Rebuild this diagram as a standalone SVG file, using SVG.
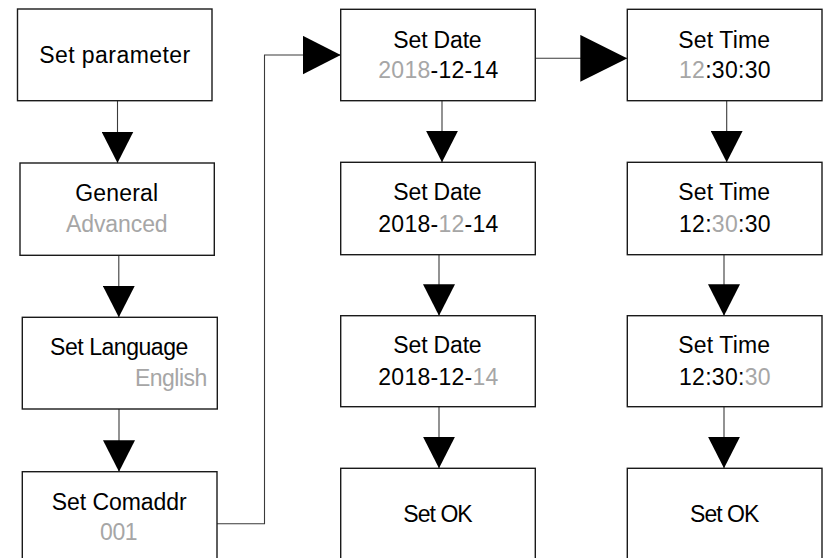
<svg xmlns="http://www.w3.org/2000/svg" width="829" height="558" viewBox="0 0 829 558">
<style>
.box{fill:#fff;stroke:#1a1a1a;stroke-width:1.4}
.t{font-family:"Liberation Sans",Arial,sans-serif;font-size:23px;fill:#000;text-anchor:middle}
.g{fill:#a6a6a6}
.c{fill:none;stroke:#3a3a3a;stroke-width:1.1}
</style>
<defs>
<marker id="aS" markerUnits="userSpaceOnUse" markerWidth="32" markerHeight="32" refX="31.5" refY="16" orient="auto" viewBox="0 0 32 32"><path d="M0,0 L31.5,16 L0,32 Z" fill="#000"/></marker>
<marker id="aM" markerUnits="userSpaceOnUse" markerWidth="39" markerHeight="39" refX="38" refY="19.3" orient="auto" viewBox="0 0 39 39"><path d="M0,0 L38,19.3 L0,38.6 Z" fill="#000"/></marker>
<marker id="aL" markerUnits="userSpaceOnUse" markerWidth="47" markerHeight="47" refX="47" refY="23.4" orient="auto" viewBox="0 0 47 47"><path d="M0,0 L47,23.4 L0,46.8 Z" fill="#000"/></marker>
</defs>
<g id="connectors">
<path class="c" d="M117.5,100.7 V163" marker-end="url(#aS)"/>
<path class="c" d="M118.8,255.3 V317.3" marker-end="url(#aS)"/>
<path class="c" d="M119,409 V471.7" marker-end="url(#aS)"/>
<path class="c" d="M217,523.7 H264.5 V55 H340.7" marker-end="url(#aM)"/>
<path class="c" d="M442,100.7 V162.3" marker-end="url(#aS)"/>
<path class="c" d="M439,254.7 V315.7" marker-end="url(#aS)"/>
<path class="c" d="M439,406.7 V468.3" marker-end="url(#aS)"/>
<path class="c" d="M535.3,58.3 H627.3" marker-end="url(#aL)"/>
<path class="c" d="M726.7,100.7 V162.3" marker-end="url(#aS)"/>
<path class="c" d="M724,254.7 V315.7" marker-end="url(#aS)"/>
<path class="c" d="M724,406.7 V468.3" marker-end="url(#aS)"/>
</g>
<g id="set-parameter">
<rect class="box" x="17.5" y="9" width="194.5" height="91.7"/>
<text class="t" x="114.7" y="63.3" textLength="151">Set parameter</text>
</g>
<g id="general">
<rect class="box" x="20" y="163" width="194.3" height="92.3"/>
<text class="t" x="116.7" y="201" textLength="83">General</text>
<text class="t g" x="116.8" y="232.3" textLength="101.7">Advanced</text>
</g>
<g id="set-language">
<rect class="box" x="22.3" y="317.3" width="195" height="91.7"/>
<text class="t" x="119.2" y="355" textLength="138.3">Set Language</text>
<text class="t g" x="207.3" y="386" style="text-anchor:end" textLength="72.3">English</text>
</g>
<g id="set-comaddr">
<rect class="box" x="22.3" y="471.7" width="194.7" height="100"/>
<text class="t" x="119.2" y="510" textLength="135">Set Comaddr</text>
<text class="t g" x="118.8" y="540" textLength="37.7">001</text>
</g>
<g id="date-year">
<rect class="box" x="340.7" y="9.3" width="194.6" height="91.4"/>
<text class="t" x="437.5" y="48.3" textLength="88.3">Set Date</text>
<text class="t" x="438.3" y="78.3" textLength="120"><tspan class="g">2018</tspan>-12-14</text>
</g>
<g id="date-month">
<rect class="box" x="340.7" y="162.3" width="194.6" height="92.4"/>
<text class="t" x="437.5" y="200" textLength="88.3">Set Date</text>
<text class="t" x="438.3" y="231.7" textLength="120">2018-<tspan class="g">12</tspan>-14</text>
</g>
<g id="date-day">
<rect class="box" x="340.7" y="315.7" width="194.6" height="91"/>
<text class="t" x="437.5" y="353.3" textLength="88.3">Set Date</text>
<text class="t" x="438.3" y="385" textLength="120">2018-12-<tspan class="g">14</tspan></text>
</g>
<g id="date-ok">
<rect class="box" x="340.7" y="468.3" width="194.6" height="100"/>
<text class="t" x="438" y="521.7" textLength="69.3">Set OK</text>
</g>
<g id="time-hour">
<rect class="box" x="627.3" y="9.3" width="194.7" height="91.4"/>
<text class="t" x="724.2" y="48.3" textLength="91.7">Set Time</text>
<text class="t" x="724.8" y="78.3" textLength="91.7"><tspan class="g">12</tspan>:30:30</text>
</g>
<g id="time-minute">
<rect class="box" x="627.3" y="162.3" width="194.7" height="92.4"/>
<text class="t" x="724.2" y="200" textLength="91.7">Set Time</text>
<text class="t" x="724.8" y="231.7" textLength="91.7">12:<tspan class="g">30</tspan>:30</text>
</g>
<g id="time-second">
<rect class="box" x="627.3" y="315.7" width="194.7" height="91"/>
<text class="t" x="724.2" y="353.3" textLength="91.7">Set Time</text>
<text class="t" x="724.8" y="385" textLength="91.7">12:30:<tspan class="g">30</tspan></text>
</g>
<g id="time-ok">
<rect class="box" x="627.3" y="468.3" width="194.7" height="100"/>
<text class="t" x="724.7" y="521.7" textLength="69.3">Set OK</text>
</g>
</svg>
